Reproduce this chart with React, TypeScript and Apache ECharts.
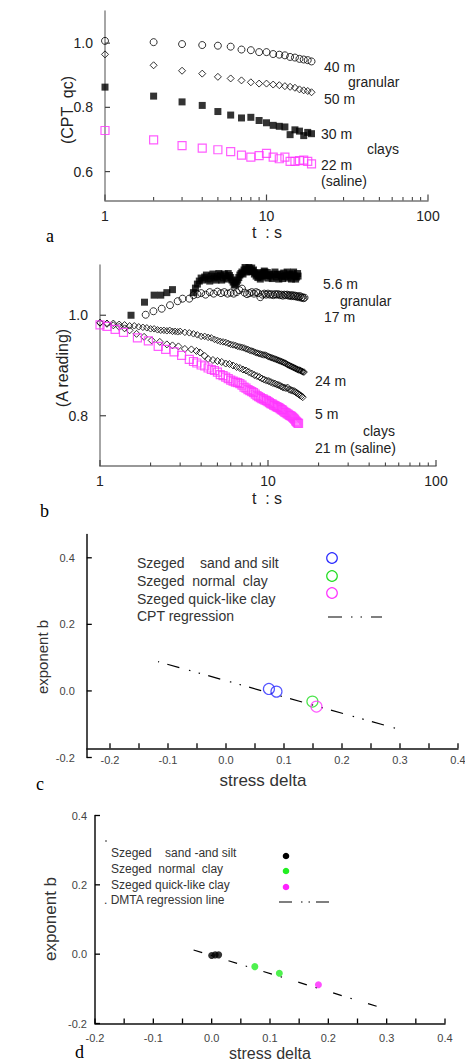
import React, { useEffect, useRef } from "react";
import * as echarts from "echarts";

const FONT = "'Liberation Sans', Arial, Helvetica, sans-serif";
const SERIF = "'Liberation Serif', 'Times New Roman', serif";

// ---------- Panel a : CPT qc vs time ----------
const timeA = [1, 2, 3, 4, 5, 6, 7, 8, 9, 10, 11, 12, 13, 14, 15, 16, 17, 18, 19];
const cpt40m = [1.007, 1.003, 0.997, 0.994, 0.992, 0.989, 0.98, 0.978, 0.972, 0.972, 0.966, 0.964, 0.962, 0.957, 0.955, 0.951, 0.949, 0.947, 0.943];
const cpt50m = [0.965, 0.931, 0.914, 0.905, 0.895, 0.89, 0.884, 0.878, 0.874, 0.874, 0.871, 0.869, 0.866, 0.864, 0.861, 0.856, 0.853, 0.851, 0.847];
const cpt30m = [0.863, 0.835, 0.817, 0.806, 0.787, 0.776, 0.767, 0.769, 0.759, 0.752, 0.744, 0.741, 0.739, 0.715, 0.73, 0.726, 0.712, 0.722, 0.718];
const cpt22m = [0.728, 0.699, 0.681, 0.673, 0.668, 0.662, 0.651, 0.645, 0.65, 0.657, 0.645, 0.64, 0.645, 0.632, 0.632, 0.634, 0.636, 0.632, 0.624];

// ---------- Panel b : A reading vs time, [t, value] ----------
const dmt56m = [
  [1.53, 1.0], [1.84, 1.026], [2.1, 1.04], [2.3, 1.04], [2.5, 1.045], [2.7, 1.051], [3.6, 1.045], [3.7, 1.054], [3.8, 1.062], [3.9, 1.068], [4.0, 1.074],
  [4.1, 1.07], [4.2, 1.076], [4.3, 1.08], [4.4, 1.072], [4.5, 1.068], [4.6, 1.078], [4.7, 1.082], [4.8, 1.074], [4.9, 1.07], [5.0, 1.077],
  [5.1, 1.083], [5.2, 1.08], [5.3, 1.07], [5.4, 1.074], [5.5, 1.082], [5.6, 1.078], [5.7, 1.072], [5.8, 1.083], [5.9, 1.079], [6.0, 1.075],
  [6.1, 1.07], [6.2, 1.066], [6.3, 1.06], [6.4, 1.062], [6.5, 1.066], [6.6, 1.07], [6.7, 1.075], [6.8, 1.08], [6.9, 1.083], [7.0, 1.086],
  [7.1, 1.082], [7.2, 1.09], [7.3, 1.095], [7.4, 1.092], [7.5, 1.086], [7.6, 1.088], [7.7, 1.095], [7.8, 1.092], [7.9, 1.087], [8.0, 1.094],
  [8.1, 1.088], [8.2, 1.09], [8.3, 1.082], [8.4, 1.085], [8.5, 1.078], [8.6, 1.082], [8.7, 1.075], [8.8, 1.078], [8.9, 1.084], [9.0, 1.072],
  [9.1, 1.079], [9.2, 1.076], [9.3, 1.085], [9.4, 1.082], [9.5, 1.088], [9.6, 1.086], [9.7, 1.079], [9.8, 1.08], [9.9, 1.085], [10.0, 1.074],
  [10.2, 1.081], [10.4, 1.078], [10.6, 1.073], [10.8, 1.082], [11.0, 1.086], [11.2, 1.076], [11.4, 1.081], [11.6, 1.072], [11.8, 1.082],
  [12.0, 1.078], [12.2, 1.073], [12.4, 1.084], [12.6, 1.077], [12.8, 1.08], [13.0, 1.086], [13.2, 1.074], [13.4, 1.082], [13.6, 1.078],
  [13.8, 1.072], [14.0, 1.082], [14.2, 1.086], [14.4, 1.078], [14.6, 1.072], [14.8, 1.076], [15.0, 1.083], [15.1, 1.078]
];
const dmt17m = [
  [1.87, 1.001], [2.08, 1.008], [2.33, 1.013], [2.61, 1.02], [2.9, 1.028], [3.1, 1.033], [3.4, 1.033], [3.6, 1.04], [3.8, 1.042], [4.0, 1.044],
  [4.25, 1.041], [4.5, 1.046], [4.75, 1.043], [5.0, 1.047], [5.25, 1.044], [5.5, 1.046], [5.75, 1.043], [6.0, 1.045], [6.25, 1.043], [6.5, 1.046],
  [6.75, 1.05], [7.0, 1.053], [7.25, 1.045], [7.5, 1.042], [7.75, 1.044], [8.0, 1.046], [8.25, 1.043], [8.5, 1.046], [8.75, 1.044], [9.0, 1.036],
  [9.25, 1.041], [9.5, 1.043], [9.75, 1.041], [10.0, 1.043], [10.25, 1.041], [10.5, 1.042], [10.75, 1.04], [11.0, 1.042], [11.25, 1.041],
  [11.5, 1.042], [11.75, 1.04], [12.0, 1.041], [12.25, 1.039], [12.5, 1.041], [12.75, 1.04], [13.0, 1.041], [13.25, 1.039], [13.5, 1.04],
  [13.75, 1.038], [14.0, 1.04], [14.25, 1.038], [14.5, 1.039], [14.75, 1.037], [15.0, 1.038], [15.25, 1.036], [15.5, 1.038], [15.75, 1.035],
  [16.0, 1.036], [16.25, 1.034], [16.5, 1.035]
];
const dmt24m = [
  [1.0, 0.985], [1.1, 0.984], [1.2, 0.984], [1.3, 0.982], [1.4, 0.981], [1.5, 0.979], [1.6, 0.979], [1.7, 0.977], [1.8, 0.976], [1.9, 0.975],
  [2.0, 0.973], [2.1, 0.973], [2.2, 0.971], [2.3, 0.97], [2.4, 0.97], [2.5, 0.969], [2.6, 0.97], [2.7, 0.968], [2.8, 0.968], [2.9, 0.967], [3.0, 0.968],
  [3.2, 0.966], [3.4, 0.965], [3.6, 0.963], [3.8, 0.961], [4.0, 0.958], [4.2, 0.958], [4.4, 0.956], [4.6, 0.955], [4.8, 0.952], [5.0, 0.95],
  [5.2, 0.948], [5.4, 0.947], [5.6, 0.946], [5.8, 0.944], [6.0, 0.942], [6.2, 0.941], [6.4, 0.94], [6.6, 0.938], [6.8, 0.937], [7.0, 0.936],
  [7.2, 0.935], [7.4, 0.933], [7.6, 0.932], [7.8, 0.93], [8.0, 0.929], [8.2, 0.928], [8.4, 0.926], [8.6, 0.925], [8.8, 0.924], [9.0, 0.923],
  [9.2, 0.922], [9.4, 0.921], [9.6, 0.921], [9.8, 0.92], [10.0, 0.918], [10.2, 0.917], [10.4, 0.916], [10.6, 0.915], [10.8, 0.914], [11.0, 0.913],
  [11.2, 0.912], [11.4, 0.911], [11.6, 0.91], [11.8, 0.909], [12.0, 0.908], [12.2, 0.907], [12.4, 0.906], [12.6, 0.905], [12.8, 0.904],
  [13.0, 0.902], [13.2, 0.901], [13.4, 0.9], [13.6, 0.899], [13.8, 0.898], [14.0, 0.897], [14.2, 0.896], [14.4, 0.895], [14.6, 0.894],
  [14.8, 0.893], [15.0, 0.892], [15.2, 0.891], [15.4, 0.891], [15.6, 0.89], [15.8, 0.889], [16.0, 0.888], [16.2, 0.887], [16.4, 0.887]
];
const dmt5m = [
  [1.0, 0.985], [1.1, 0.983], [1.2, 0.98], [1.3, 0.977], [1.4, 0.974], [1.5, 0.97], [1.65, 0.963], [1.83, 0.957], [2.03, 0.95], [2.27, 0.947],
  [2.5, 0.942], [2.7, 0.94], [2.93, 0.938], [3.2, 0.933], [3.5, 0.932], [3.75, 0.929], [3.94, 0.926], [4.2, 0.919], [4.4, 0.913], [4.7, 0.911],
  [5.0, 0.909], [5.3, 0.907], [5.6, 0.904], [5.9, 0.903], [6.2, 0.9], [6.5, 0.897], [6.8, 0.895], [7.1, 0.892], [7.4, 0.89], [7.7, 0.887],
  [8.0, 0.884], [8.3, 0.881], [8.6, 0.879], [8.9, 0.877], [9.2, 0.874], [9.5, 0.872], [9.8, 0.87], [10.1, 0.869], [10.4, 0.867], [10.7, 0.865],
  [11.0, 0.864], [11.3, 0.862], [11.6, 0.861], [11.9, 0.859], [12.2, 0.857], [12.5, 0.856], [12.8, 0.855], [13.1, 0.856], [13.4, 0.852],
  [13.7, 0.851], [14.0, 0.85], [14.3, 0.849], [14.6, 0.847], [14.9, 0.845], [15.2, 0.843], [15.5, 0.841], [15.8, 0.839], [16.1, 0.837]
];
const dmt21m = [
  [1.0, 0.981], [1.1, 0.978], [1.23, 0.972], [1.38, 0.966], [1.67, 0.955], [1.94, 0.949], [2.22, 0.938], [2.46, 0.932], [2.76, 0.927],
  [3.06, 0.92], [3.4, 0.912], [3.6, 0.908], [3.77, 0.905], [4.0, 0.901], [4.2, 0.899], [4.4, 0.895], [4.6, 0.892], [4.8, 0.89], [5.0, 0.887],
  [5.2, 0.882], [5.4, 0.88], [5.6, 0.877], [5.8, 0.874], [6.0, 0.871], [6.2, 0.869], [6.4, 0.867], [6.6, 0.866], [6.8, 0.864], [7.0, 0.861],
  [7.2, 0.857], [7.4, 0.855], [7.6, 0.852], [7.8, 0.85], [8.0, 0.848], [8.2, 0.846], [8.4, 0.843], [8.6, 0.84], [8.8, 0.838], [9.0, 0.836],
  [9.2, 0.834], [9.4, 0.833], [9.6, 0.831], [9.8, 0.83], [10.0, 0.828], [10.2, 0.826], [10.4, 0.824], [10.6, 0.823], [10.8, 0.821],
  [11.0, 0.82], [11.2, 0.818], [11.4, 0.817], [11.6, 0.816], [11.8, 0.814], [12.0, 0.812], [12.2, 0.811], [12.4, 0.809], [12.6, 0.807],
  [12.8, 0.806], [13.0, 0.804], [13.2, 0.803], [13.4, 0.801], [13.6, 0.8], [13.8, 0.799], [14.0, 0.797], [14.2, 0.795], [14.4, 0.793],
  [14.6, 0.79], [14.8, 0.788], [15.0, 0.786], [15.2, 0.785]
];

// ---------- Panel c : exponent b vs stress delta (CPT) ----------
const cSandX = [0.074, 0.087];
const cSandY = [0.006, -0.002];
const cNormalX = [0.149];
const cNormalY = [-0.032];
const cQuickX = [0.156];
const cQuickY = [-0.047];
const cptRegX = [-0.117, 0.298];
const cptRegY = [0.088, -0.115];

// ---------- Panel d : exponent b vs stress delta (DMTA) ----------
const dSandX = [0.0, 0.006, 0.012];
const dSandY = [-0.004, -0.002, -0.002];
const dNormalX = [0.074, 0.116];
const dNormalY = [-0.036, -0.055];
const dQuickX = [0.183];
const dQuickY = [-0.088];
const dmtaRegX = [-0.031, 0.284];
const dmtaRegY = [0.012, -0.151];

// ---------- Tick values ----------
const logMajor = [1, 10, 100];
const logMinor = [2, 3, 4, 5, 6, 7, 8, 9, 20, 30, 40, 50, 60, 70, 80, 90];
const aYTicks = [0.6, 0.8, 1.0];
const bYTicks = [0.8, 1.0];
const cdXLabels = [-0.2, -0.1, 0.0, 0.1, 0.2, 0.3, 0.4];
const cdXTicks = [-0.2, -0.15, -0.1, -0.05, 0.0, 0.05, 0.1, 0.15, 0.2, 0.25, 0.3, 0.35, 0.4];
const cdYTicks = [-0.2, 0.0, 0.2, 0.4];

const zip = (xs: number[], ys: number[]) => xs.map((x, i) => [x, ys[i]]);
const fmt1 = (v: number) => (Math.abs(v) < 1e-9 ? "0.0" : v.toFixed(1));

const txt = (x: number, y: number, text: string, size: number, opts: any = {}) => ({
  type: "text",
  x,
  y,
  rotation: opts.rotation || 0,
  silent: true,
  style: {
    text,
    fill: opts.fill || "#222",
    font: `${size}px ${opts.family || FONT}`,
    align: opts.align || "left",
    textAlign: opts.align || "left",
    verticalAlign: "middle",
    textVerticalAlign: "middle",
  },
});

export default function App() {
  const ref = useRef<HTMLDivElement>(null);

  useEffect(() => {
    if (!ref.current) return;
    const chart = echarts.init(ref.current, undefined, { renderer: "svg" });

    const logAxisMain = (grid: number) => ({
      type: "log",
      logBase: 10,
      gridIndex: grid,
      min: 1,
      max: 100,
      axisLine: { show: true, onZero: false, lineStyle: { color: "#777", width: 1.5 } },
      axisTick: { show: false },
      axisLabel: { show: true, customValues: logMajor, margin: 8, fontSize: 14, fontFamily: FONT, color: "#222", hideOverlap: false },
      splitLine: { show: false },
      minorTick: { show: false },
    });
    const linAxisX = (grid: number, min: number, max: number, offset: number, margin: number) => ({
      type: "value",
      gridIndex: grid,
      min,
      max,
      offset,
      axisLine: { show: true, onZero: false, lineStyle: { color: "#111", width: 1.5 } },
      axisTick: { show: false },
      axisLabel: { show: true, customValues: cdXLabels, formatter: fmt1, margin, fontSize: 11, fontFamily: FONT, color: "#444", hideOverlap: false },
      splitLine: { show: false },
    });
    const yAxisBase = (grid: number, min: number, max: number, ticks: number[], o: any) => ({
      type: "value",
      gridIndex: grid,
      min,
      max,
      axisLine: { show: true, onZero: false, lineStyle: { color: o.lineColor, width: 1.5 } },
      axisTick: { show: false },
      axisLabel: { show: true, customValues: ticks, formatter: fmt1, margin: o.margin, fontSize: o.fontSize, fontFamily: FONT, color: o.labelColor, hideOverlap: false },
      splitLine: { show: false },
    });

    const openStyle = (c: string, w = 1) => ({ color: "rgba(0,0,0,0)", borderColor: c, borderWidth: w });
    const scatter = (x: number, y: number, data: any[], symbol: string, size: number, itemStyle: any, z = 3) => ({
      type: "scatter",
      xAxisIndex: x,
      yAxisIndex: y,
      data,
      symbol,
      symbolSize: size,
      itemStyle,
      z,
      silent: true,
    });

    const graphics: any[] = [
      // panel letters
      txt(46, 236, "a", 18, { family: SERIF, fill: "#000" }),
      txt(40, 511, "b", 18, { family: SERIF, fill: "#000" }),
      txt(36, 784, "c", 18, { family: SERIF, fill: "#000" }),
      txt(75, 1052, "d", 18, { family: SERIF, fill: "#000" }),
      // panel a axis names and labels
      txt(67, 110, "(CPT  qc)", 16, { rotation: Math.PI / 2, align: "center" }),
      txt(267, 232, "t  : s", 16, { align: "center" }),
      txt(324, 67, "40 m", 14),
      txt(348, 82, "granular", 14),
      txt(324, 99, "50 m", 14),
      txt(321, 134, "30 m", 14),
      txt(367, 149, "clays", 14),
      txt(321, 165, "22 m", 14),
      txt(321, 181, "(saline)", 14),
      // panel b
      txt(62, 368, "(A reading)", 16, { rotation: Math.PI / 2, align: "center" }),
      txt(267, 498, "t  : s", 16, { align: "center" }),
      txt(323, 284, "5.6 m", 14),
      txt(340, 301, "granular", 14),
      txt(324, 317, "17 m", 14),
      txt(315, 381, "24 m", 14),
      txt(315, 414, "5 m", 14),
      txt(363, 431, "clays", 14),
      txt(315, 448, "21 m (saline)", 14),
      // panel c
      txt(42, 657, "exponent b", 15, { rotation: Math.PI / 2, align: "center", fill: "#333" }),
      txt(263, 780, "stress delta", 17, { align: "center", fill: "#333" }),
      txt(137, 563, "Szeged    sand and silt", 14, { fill: "#333" }),
      txt(137, 581, "Szeged  normal  clay", 14, { fill: "#333" }),
      txt(137, 599, "Szeged quick-like clay", 14, { fill: "#333" }),
      txt(137, 616, "CPT regression", 14, { fill: "#333" }),
      { type: "circle", silent: true, shape: { cx: 332, cy: 558, r: 5.3 }, style: { fill: "none", stroke: "#2a2aff", lineWidth: 1.2 } },
      { type: "circle", silent: true, shape: { cx: 332, cy: 576, r: 5.3 }, style: { fill: "none", stroke: "#22dd22", lineWidth: 1.2 } },
      { type: "circle", silent: true, shape: { cx: 332, cy: 593, r: 5.3 }, style: { fill: "none", stroke: "#ff33ff", lineWidth: 1.2 } },
      { type: "line", silent: true, shape: { x1: 328, y1: 617, x2: 382, y2: 617 }, style: { stroke: "#000", lineWidth: 1.2, lineDash: [14, 9, 1.5, 8, 1.5, 9] } },
      // panel d
      txt(50, 919, "exponent b", 17, { rotation: Math.PI / 2, align: "center", fill: "#333" }),
      txt(270, 1053, "stress delta", 16, { align: "center", fill: "#333" }),
      txt(111, 853, "Szeged    sand -and silt", 12, { fill: "#333" }),
      txt(111, 869, "Szeged  normal  clay", 12, { fill: "#333" }),
      txt(111, 885, "Szeged quick-like clay", 12, { fill: "#333" }),
      txt(104, 900, ". DMTA regression line", 12, { fill: "#333" }),
      { type: "line", silent: true, shape: { x1: 105, y1: 841, x2: 107, y2: 841 }, style: { stroke: "#333", lineWidth: 1 } },
      { type: "circle", silent: true, shape: { cx: 286, cy: 856, r: 3.3 }, style: { fill: "#000" } },
      { type: "circle", silent: true, shape: { cx: 286, cy: 871, r: 3.3 }, style: { fill: "#22ee22" } },
      { type: "circle", silent: true, shape: { cx: 286, cy: 887, r: 3.3 }, style: { fill: "#ff22ff" } },
      { type: "line", silent: true, shape: { x1: 279, y1: 902, x2: 332, y2: 902 }, style: { stroke: "#000", lineWidth: 1.2, lineDash: [13, 9, 1.5, 6, 1.5, 6] } },
    ];

    const option: any = {
      animation: false,
      backgroundColor: "#fff",
      grid: [
        { left: 105, top: 11, width: 323, height: 189.5, containLabel: false, outerBoundsMode: "none" },
        { left: 100, top: 265, width: 336, height: 201, containLabel: false, outerBoundsMode: "none" },
        { left: 86.8, top: 534.5, width: 371.2, height: 223, containLabel: false, outerBoundsMode: "none" },
        { left: 95, top: 815.5, width: 350, height: 208, containLabel: false, outerBoundsMode: "none" },
      ],
      xAxis: [
        logAxisMain(0),
        logAxisMain(1),
        linAxisX(2, -0.24, 0.4, -9.2, 6),
        linAxisX(3, -0.2, 0.4, 0, 9),
      ],
      yAxis: [
        yAxisBase(0, 0.51, 1.1, aYTicks, { lineColor: "#888", margin: 12, fontSize: 14, labelColor: "#222" }),
        yAxisBase(1, 0.7, 1.1, bYTicks, { lineColor: "#888", margin: 12, fontSize: 14, labelColor: "#222" }),
        yAxisBase(2, -0.2, 0.47, cdYTicks, { lineColor: "#111", margin: 12, fontSize: 11, labelColor: "#444" }),
        yAxisBase(3, -0.2, 0.4, cdYTicks, { lineColor: "#111", margin: 8, fontSize: 11, labelColor: "#444" }),
      ],
      series: [
        // panel a
        scatter(0, 0, zip(timeA, cpt40m), "circle", 7, openStyle("#000")),
        scatter(0, 0, zip(timeA, cpt50m), "diamond", 7, openStyle("#000")),
        scatter(0, 0, zip(timeA, cpt30m), "rect", 7, { color: "#000" }),
        scatter(0, 0, zip(timeA, cpt22m), "rect", 8, openStyle("#ff33ff", 1.2)),
        // panel b
        scatter(1, 1, dmt56m, "rect", 7, { color: "#000" }),
        scatter(1, 1, dmt17m, "circle", 7, openStyle("#000")),
        scatter(1, 1, dmt24m, "diamond", 6.5, openStyle("#000")),
        scatter(1, 1, dmt5m, "diamond", 7, openStyle("#000")),
        scatter(1, 1, dmt21m, "rect", 8, openStyle("#ff33ff", 1.2), 4),
        // panel c
        {
          type: "line",
          xAxisIndex: 2,
          yAxisIndex: 2,
          data: zip(cptRegX, cptRegY),
          symbol: "none",
          silent: true,
          lineStyle: { color: "#000", width: 1.2, type: [12.5, 10, 1.5, 8.5, 1.5, 8.5], dashOffset: 32.5 },
          z: 2,
        },
        scatter(2, 2, zip(cSandX, cSandY), "circle", 11, openStyle("#2a2aff", 1.2)),
        scatter(2, 2, zip(cNormalX, cNormalY), "circle", 11, openStyle("#22dd22", 1.2)),
        scatter(2, 2, zip(cQuickX, cQuickY), "circle", 11, openStyle("#ff33ff", 1.2)),
        // panel d
        {
          type: "line",
          xAxisIndex: 3,
          yAxisIndex: 3,
          data: zip(dmtaRegX, dmtaRegY),
          symbol: "none",
          silent: true,
          lineStyle: { color: "#000", width: 1.2, type: [9, 9, 1.5, 17], dashOffset: 0 },
          z: 2,
        },
        scatter(3, 3, zip(dSandX, dSandY), "circle", 7, { color: "#000" }),
        scatter(3, 3, zip(dNormalX, dNormalY), "circle", 7, { color: "#22ee22" }),
        scatter(3, 3, zip(dQuickX, dQuickY), "circle", 7, { color: "#ff22ff" }),
      ],
      graphic: { elements: graphics },
    };

    chart.setOption(option);

    // tick marks: positions come from the axes' own scales via convertToPixel
    const ticks: any[] = [];
    const px = (g: number, v: number[]) => chart.convertToPixel({ gridIndex: g } as any, v) as number[];
    const addX = (g: number, vals: number[], yBase: number, len: number, shift: number, color: string, w: number) =>
      vals.forEach((v) => {
        const p = px(g, [v, yBase]);
        if (!p || isNaN(p[0]) || isNaN(p[1])) return;
        ticks.push({ type: "line", silent: true, z: 100, shape: { x1: p[0], y1: p[1] + shift, x2: p[0], y2: p[1] + shift - len }, style: { stroke: color, lineWidth: w } });
      });
    const addY = (g: number, vals: number[], xBase: number, len: number, color: string, w: number) =>
      vals.forEach((v) => {
        const p = px(g, [xBase, v]);
        if (!p || isNaN(p[0]) || isNaN(p[1])) return;
        ticks.push({ type: "line", silent: true, z: 100, shape: { x1: p[0], y1: p[1], x2: p[0] + len, y2: p[1] }, style: { stroke: color, lineWidth: w } });
      });
    addX(0, logMajor, 0.51, 6, 0, "#444", 1.2);
    addX(0, logMinor, 0.51, 3.5, 0, "#444", 1.1);
    addY(0, aYTicks, 1, 5, "#444", 1.2);
    addX(1, logMajor, 0.7, 6, 0, "#444", 1.2);
    addX(1, logMinor, 0.7, 3.5, 0, "#444", 1.1);
    addY(1, bYTicks, 1, 6, "#444", 1.2);
    addX(2, cdXTicks, -0.2, 5, -9.2, "#000", 1.3);
    addY(2, cdYTicks, -0.24, 5, "#000", 1.3);
    addX(3, cdXTicks, -0.2, 5, 0, "#000", 1.3);
    addY(3, cdYTicks, -0.2, 5, "#000", 1.3);

    chart.setOption({ graphic: { elements: graphics.concat(ticks) } });

    return () => chart.dispose();
  }, []);

  return (
    <div
      ref={ref}
      style={{ position: "absolute", left: 0, top: 0, width: 465, height: 1063, background: "#fff" }}
    />
  );
}
